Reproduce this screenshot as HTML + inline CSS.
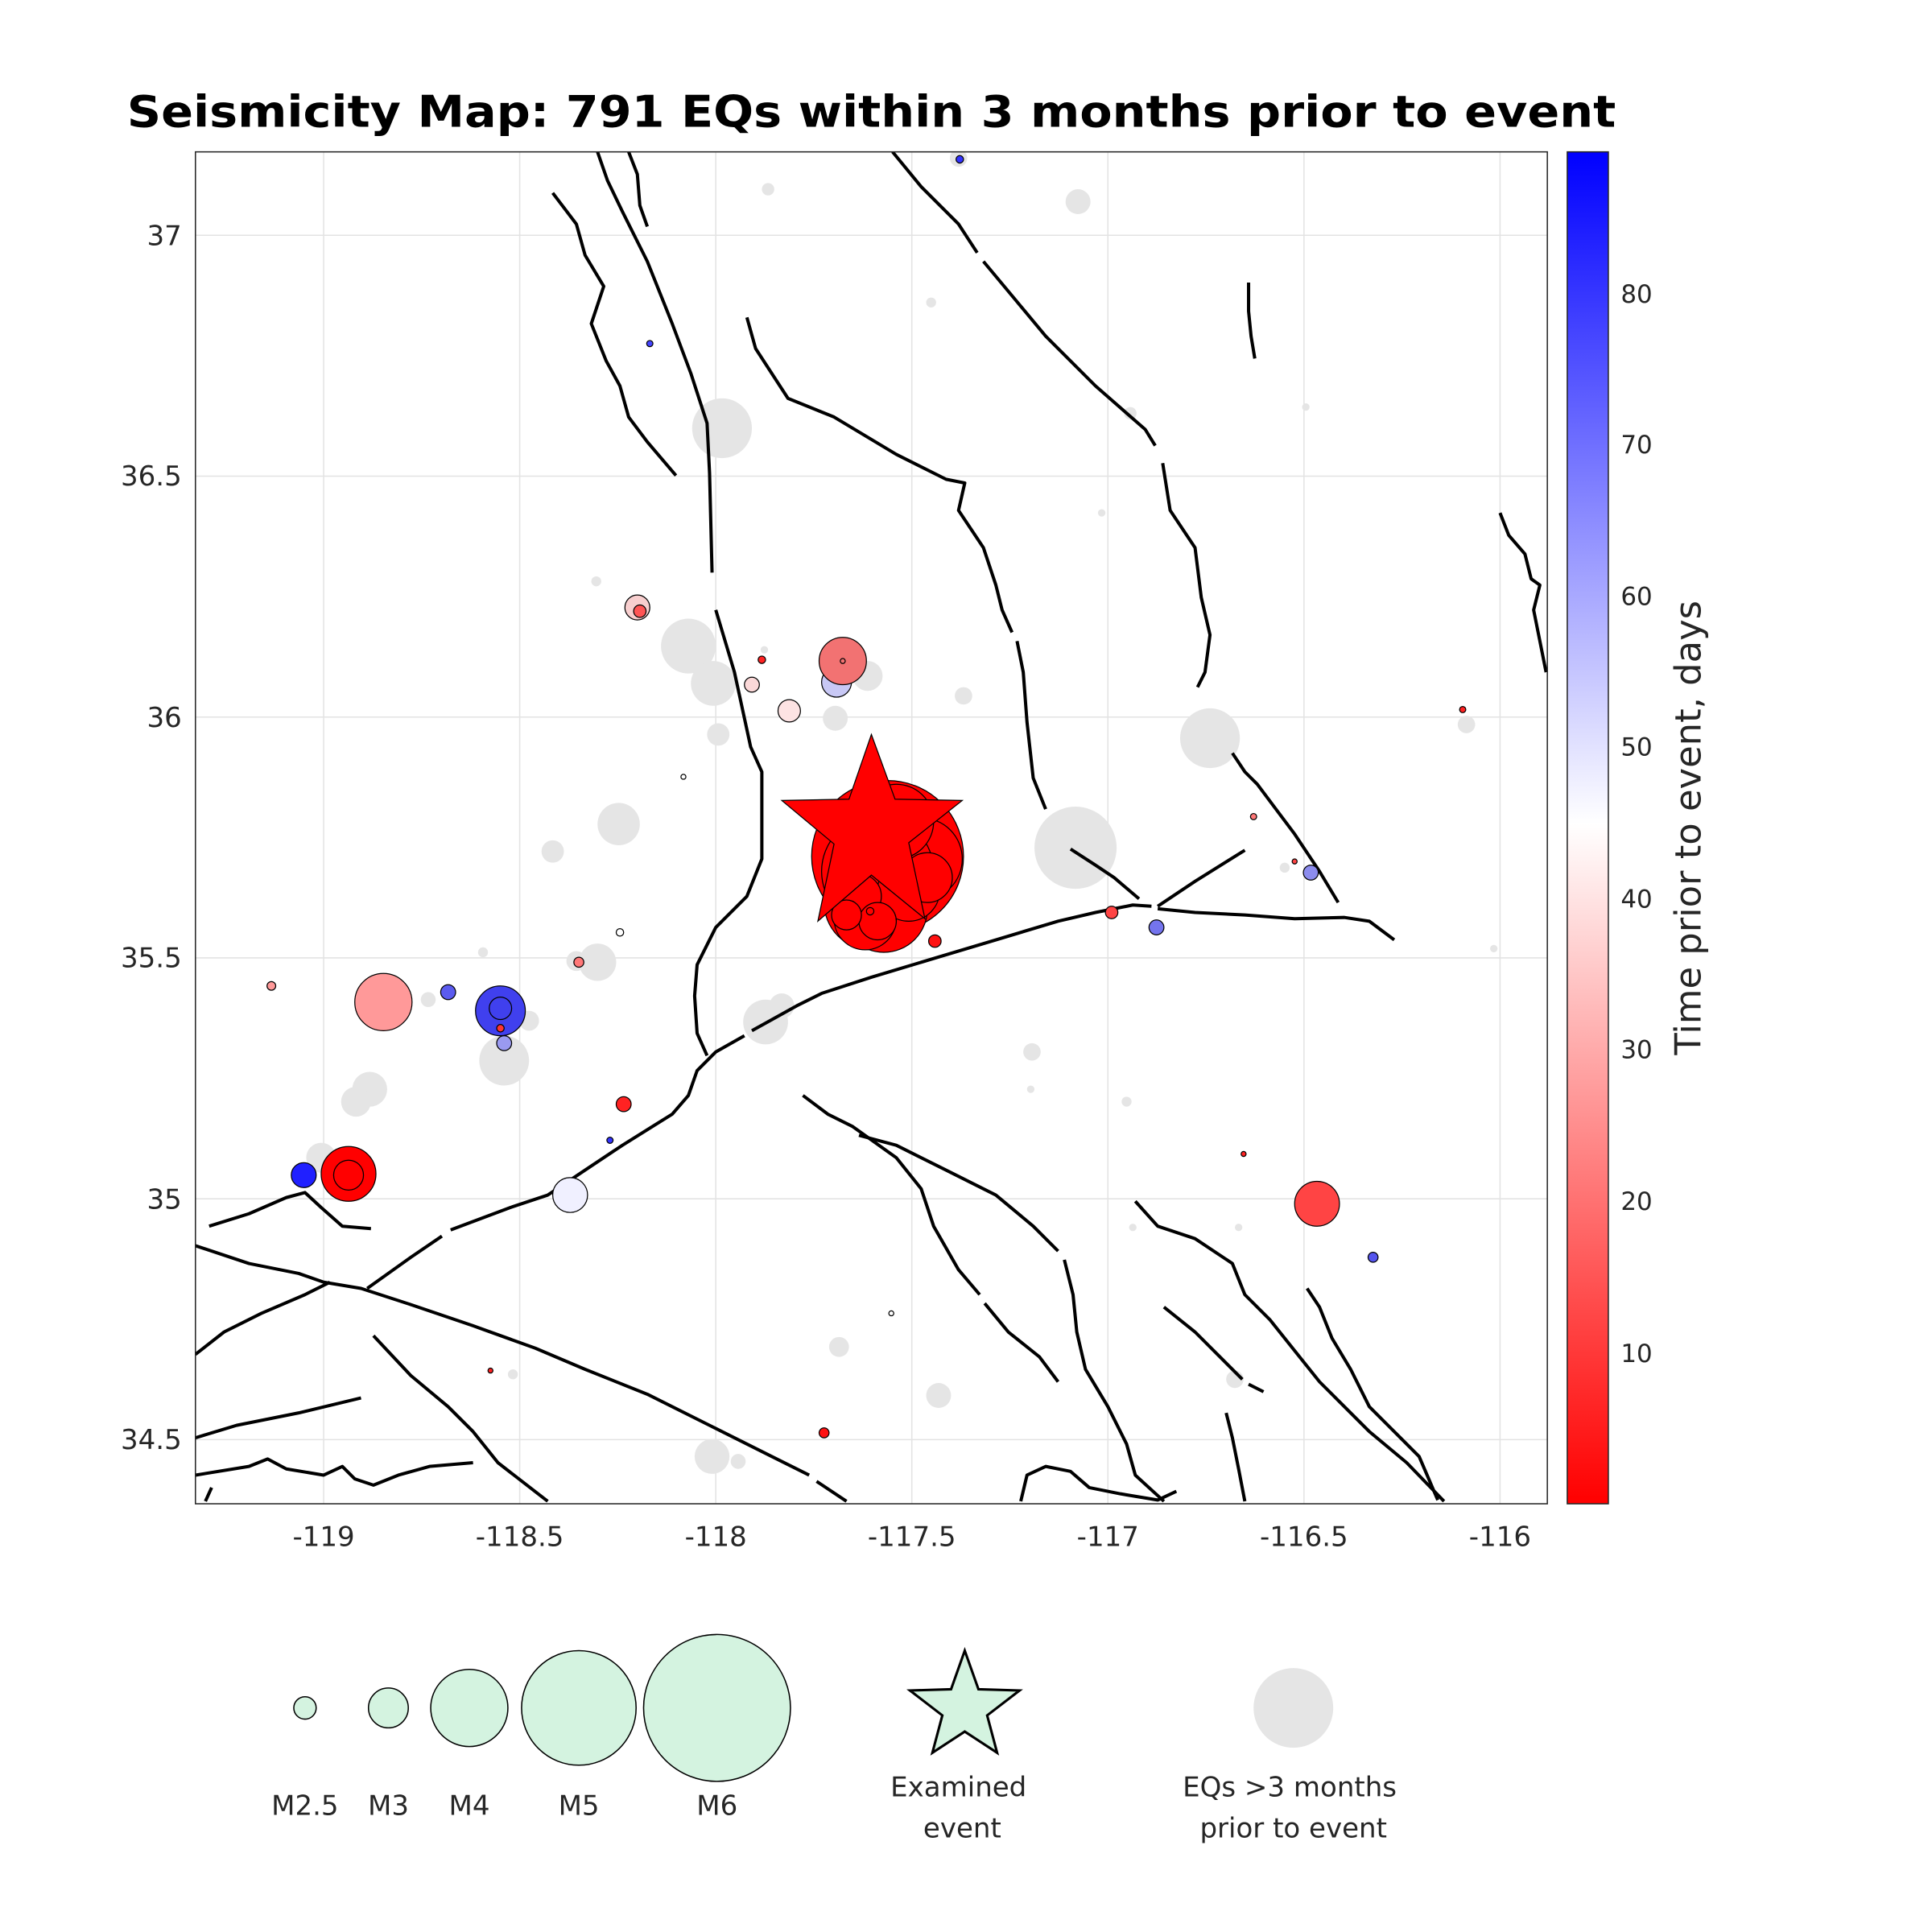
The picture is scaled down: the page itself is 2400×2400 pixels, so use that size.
<!DOCTYPE html>
<html><head><meta charset="utf-8"><style>
html,body{margin:0;padding:0;background:#fff;}
svg{display:block;}
text{font-family:"DejaVu Sans","Liberation Sans",sans-serif;fill:#262626;}
</style></head><body>
<svg width="2400" height="2400" viewBox="0 0 1552 1552" xmlns="http://www.w3.org/2000/svg">
<defs>
<linearGradient id="cb" x1="0" y1="0" x2="0" y2="1">
<stop offset="0" stop-color="#0000ff"/>
<stop offset="0.497" stop-color="#ffffff"/>
<stop offset="1" stop-color="#ff0000"/>
</linearGradient>
<clipPath id="ax"><rect x="157" y="122" width="1086" height="1086"/></clipPath>
</defs>
<text x="102" y="102" textLength="1196" lengthAdjust="spacingAndGlyphs" font-size="35" font-weight="bold" style="fill:#000">Seismicity Map: 791 EQs within 3 months prior to event</text>
<rect x="157" y="122" width="1086" height="1086" fill="#fff"/>
<g stroke="#e3e3e3" stroke-width="1">
<line x1="260" y1="122" x2="260" y2="1208"/><line x1="417.5" y1="122" x2="417.5" y2="1208"/><line x1="575" y1="122" x2="575" y2="1208"/><line x1="732.5" y1="122" x2="732.5" y2="1208"/><line x1="890" y1="122" x2="890" y2="1208"/><line x1="1047.5" y1="122" x2="1047.5" y2="1208"/><line x1="1205" y1="122" x2="1205" y2="1208"/>
<line x1="157" y1="189" x2="1243" y2="189"/><line x1="157" y1="382.5" x2="1243" y2="382.5"/><line x1="157" y1="576" x2="1243" y2="576"/><line x1="157" y1="769.5" x2="1243" y2="769.5"/><line x1="157" y1="963" x2="1243" y2="963"/><line x1="157" y1="1156.5" x2="1243" y2="1156.5"/>
</g>
<g clip-path="url(#ax)">
<g fill="#e5e5e5">
<circle cx="580" cy="344" r="24"/><circle cx="866" cy="162" r="10"/><circle cx="617" cy="152" r="5"/><circle cx="748" cy="243" r="4"/><circle cx="908" cy="332" r="5"/><circle cx="553" cy="519" r="22"/><circle cx="573" cy="549" r="18"/><circle cx="577" cy="590" r="9"/><circle cx="697" cy="543" r="12"/><circle cx="671" cy="577" r="10"/><circle cx="774" cy="559" r="7"/><circle cx="972" cy="593" r="24"/><circle cx="864" cy="681" r="33"/><circle cx="497" cy="662" r="17"/><circle cx="444" cy="684" r="9"/><circle cx="480" cy="773" r="15"/><circle cx="463" cy="772" r="8"/><circle cx="615" cy="821" r="18"/><circle cx="628" cy="808" r="10"/><circle cx="405" cy="852" r="20"/><circle cx="425" cy="820" r="8"/><circle cx="297" cy="875" r="14"/><circle cx="286" cy="885" r="12"/><circle cx="344" cy="803" r="6"/><circle cx="829" cy="845" r="7"/><circle cx="1178" cy="582" r="7"/><circle cx="905" cy="885" r="4"/><circle cx="459" cy="960" r="13"/><circle cx="258" cy="930" r="12"/><circle cx="674" cy="1082" r="8"/><circle cx="754" cy="1121" r="10"/><circle cx="572" cy="1170" r="14"/><circle cx="593" cy="1174" r="6"/><circle cx="992" cy="1108" r="7"/><circle cx="479" cy="467" r="4"/><circle cx="1032" cy="697" r="4"/><circle cx="412" cy="1104" r="4"/><circle cx="388" cy="765" r="4"/><circle cx="885" cy="412" r="3"/><circle cx="1049" cy="327" r="3"/><circle cx="770" cy="127" r="7"/><circle cx="1200" cy="762" r="3"/><circle cx="910" cy="986" r="3"/><circle cx="995" cy="986" r="3"/><circle cx="828" cy="875" r="3"/><circle cx="614" cy="522" r="3"/>
</g>
<g fill="none" stroke="#000" stroke-width="2.6" stroke-linejoin="round">
<polyline points="444,155 463,180 470,205 485,230 475,260 487,290 498,310 505,335 520,355 543,382"/>
<polyline points="480,122 488,145 500,170 520,210 540,260 555,300 568,340 570,380 572,460"/>
<polyline points="505,122 512,140 514,165 520,182"/>
<polyline points="717,122 740,150 770,180 785,203"/>
<polyline points="790,210 815,240 840,270 880,310 920,345 928,358"/>
<polyline points="934,372 940,410 960,440 965,480 972,510 968,540 962,552"/>
<polyline points="600,255 607,280 633,320 670,335 720,365 760,385 775,388 770,410 790,440 800,470 805,490 813,508"/>
<polyline points="817,515 822,540 825,580 830,625 840,650"/>
<polyline points="1003,227 1003,250 1005,270 1008,288"/>
<polyline points="1205,412 1212,430 1225,445 1230,465 1237,470 1232,490 1237,515 1242,540"/>
<polyline points="575,490 590,540 603,600 612,620 612,690 600,720 575,745 560,775 558,800 560,830 568,848"/>
<polyline points="168,985 200,975 230,962 245,958 258,970 275,985 298,987"/>
<polyline points="295,1035 330,1010 355,993"/>
<polyline points="362,988 410,970 440,960 470,940 500,920 540,895 553,880 560,860 575,845 598,832"/>
<polyline points="604,828 640,808 660,798 700,785 750,770 800,755 850,740 880,733 910,727 925,728"/>
<polyline points="860,682 880,695 895,705 915,722"/>
<polyline points="930,728 960,708 1000,683"/>
<polyline points="930,730 960,733 1000,735 1040,738 1080,737 1100,740 1120,755"/>
<polyline points="990,605 1000,620 1010,630 1025,650 1040,670 1060,700 1075,725"/>
<polyline points="155,1000 200,1015 240,1023 260,1030 290,1035 330,1048 380,1065 430,1083 470,1100 520,1120 570,1145 620,1170 650,1185"/>
<polyline points="656,1190 680,1206"/>
<polyline points="157,1088 180,1070 210,1055 245,1040 265,1030"/>
<polyline points="157,1155 190,1145 240,1135 290,1123"/>
<polyline points="157,1185 200,1178 215,1172 230,1180 260,1185 275,1178 285,1188 300,1193 320,1185 345,1178 380,1175"/>
<polyline points="300,1073 330,1105 360,1130 380,1150 400,1175 440,1206"/>
<polyline points="645,880 665,895 685,905 720,930 740,955 750,985 770,1020 787,1040"/>
<polyline points="791,1047 810,1070 835,1090 850,1110"/>
<polyline points="690,912 720,920 760,940 800,960 830,985 850,1005"/>
<polyline points="855,1012 862,1040 865,1070 872,1100 890,1130 905,1160 912,1185 935,1206"/>
<polyline points="912,965 930,985 960,995 990,1015 1000,1040 1020,1060 1040,1085 1060,1110 1080,1130 1100,1150 1130,1175 1160,1206"/>
<polyline points="935,1050 960,1070 980,1090 998,1108"/>
<polyline points="1003,1112 1015,1118"/>
<polyline points="1050,1035 1060,1050 1070,1075 1085,1100 1100,1130 1115,1145 1140,1170 1155,1205"/>
<polyline points="985,1135 990,1155 995,1180 1000,1206"/>
<polyline points="820,1206 825,1185 840,1178 860,1182 875,1195 900,1200 930,1205 945,1198"/>
<polyline points="165,1206 170,1195"/>
</g>
<g stroke="#000" stroke-width="0.8">
<circle cx="512" cy="488" r="10" fill="#f8cfcf"/><circle cx="514" cy="491" r="5" fill="#f55"/>
<circle cx="672" cy="548" r="12" fill="#c8c8f5"/><circle cx="677" cy="531" r="19" fill="#f27272"/><circle cx="677" cy="531" r="2" fill="none"/>
<circle cx="612" cy="530" r="3" fill="#f22"/><circle cx="604" cy="550" r="6" fill="#fbd8d8"/><circle cx="634" cy="571" r="9" fill="#fde3e3"/>
<circle cx="522" cy="276" r="2.5" fill="#44f"/><circle cx="771" cy="128" r="3" fill="#33f"/><circle cx="1175" cy="570" r="2.5" fill="#f22"/>
<circle cx="308" cy="805" r="23" fill="#f99"/><circle cx="360" cy="797" r="6" fill="#5b5bef"/>
<circle cx="402" cy="812" r="20" fill="#4040ee"/><circle cx="402" cy="810" r="9" fill="none"/>
<circle cx="405" cy="838" r="6" fill="#9a9af0"/><circle cx="402" cy="826" r="3" fill="#f33"/>
<circle cx="465" cy="773" r="4" fill="#f77"/><circle cx="501" cy="887" r="6" fill="#f22"/><circle cx="490" cy="916" r="2.5" fill="#33f"/>
<circle cx="218" cy="792" r="3.5" fill="#f99"/><circle cx="244" cy="944" r="10" fill="#2020ff"/>
<circle cx="280" cy="943" r="22" fill="#f00"/><circle cx="280" cy="944" r="12" fill="none"/>
<circle cx="458" cy="960" r="14" fill="#f0f0ff"/><circle cx="893" cy="733" r="5" fill="#f44"/><circle cx="929" cy="745" r="6" fill="#7474ee"/>
<circle cx="1053" cy="701" r="6" fill="#8c8cee"/><circle cx="1007" cy="656" r="2.5" fill="#f77"/><circle cx="1058" cy="967" r="18" fill="#f44"/>
<circle cx="1103" cy="1010" r="4" fill="#5555ee"/><circle cx="999" cy="927" r="2" fill="#f22"/><circle cx="751" cy="756" r="5" fill="#f11"/>
<circle cx="662" cy="1151" r="4" fill="#f11"/><circle cx="394" cy="1101" r="2" fill="#f22"/>
<circle cx="498" cy="749" r="3" fill="#fff"/><circle cx="549" cy="624" r="2" fill="#fff"/><circle cx="716" cy="1055" r="2" fill="#fff"/>
<circle cx="1040" cy="692" r="2" fill="#f44"/>
</g>
<g stroke="#000" stroke-width="0.8" fill="#ff0000">
<circle cx="713" cy="688" r="61"/>
<circle cx="740" cy="690" r="33"/><circle cx="705" cy="700" r="45"/><circle cx="720" cy="660" r="30"/>
<circle cx="700" cy="725" r="38"/><circle cx="710" cy="730" r="35"/><circle cx="695" cy="738" r="25"/>
<circle cx="730" cy="715" r="25"/><circle cx="745" cy="705" r="20"/><circle cx="690" cy="720" r="18"/>
<circle cx="705" cy="740" r="15"/><circle cx="680" cy="735" r="12"/><circle cx="699" cy="732" r="3"/>
<polygon points="700,590 719,642 773,643 730,677 743,738 700,703 657,740 670,678 628,643 682,642"/>
</g>
</g>
<rect x="157" y="122" width="1086" height="1086" fill="none" stroke="#262626" stroke-width="1"/>
<g font-size="22" text-anchor="middle">
<text x="260" y="1242">-119</text><text x="417.5" y="1242">-118.5</text><text x="575" y="1242">-118</text><text x="732.5" y="1242">-117.5</text><text x="890" y="1242">-117</text><text x="1047.5" y="1242">-116.5</text><text x="1205" y="1242">-116</text>
</g>
<g font-size="22" text-anchor="end">
<text x="146" y="197">37</text><text x="146" y="390">36.5</text><text x="146" y="584">36</text><text x="146" y="777">35.5</text><text x="146" y="971">35</text><text x="146" y="1164">34.5</text>
</g>
<rect x="1259" y="122" width="33" height="1086" fill="url(#cb)" stroke="#262626" stroke-width="1"/>
<g font-size="20">
<text x="1302" y="243">80</text><text x="1302" y="364">70</text><text x="1302" y="486">60</text><text x="1302" y="607">50</text><text x="1302" y="729">40</text><text x="1302" y="850">30</text><text x="1302" y="972">20</text><text x="1302" y="1094">10</text>
</g>
<text transform="translate(1366,665) rotate(-90)" text-anchor="middle" font-size="29">Time prior to event, days</text>
<g stroke="#000" stroke-width="1" fill="#d4f3e0">
<circle cx="245" cy="1372" r="9"/><circle cx="312" cy="1372" r="16"/><circle cx="377" cy="1372" r="31"/><circle cx="465" cy="1372" r="46"/><circle cx="576" cy="1372" r="59"/>
<polygon stroke-width="2" points="775,1326 786,1357 819,1358 793,1378 801,1408 775,1391 749,1408 757,1378 731,1358 764,1357"/>
</g>
<circle cx="1039" cy="1372" r="32" fill="#e5e5e5"/>
<g font-size="22" text-anchor="middle">
<text x="245" y="1458">M2.5</text><text x="312" y="1458">M3</text><text x="377" y="1458">M4</text><text x="465" y="1458">M5</text><text x="576" y="1458">M6</text>
<text x="770" y="1443">Examined</text><text x="773" y="1476">event</text>
<text x="1036" y="1443">EQs &gt;3 months</text><text x="1039" y="1476">prior to event</text>
</g>
</svg>
</body></html>
